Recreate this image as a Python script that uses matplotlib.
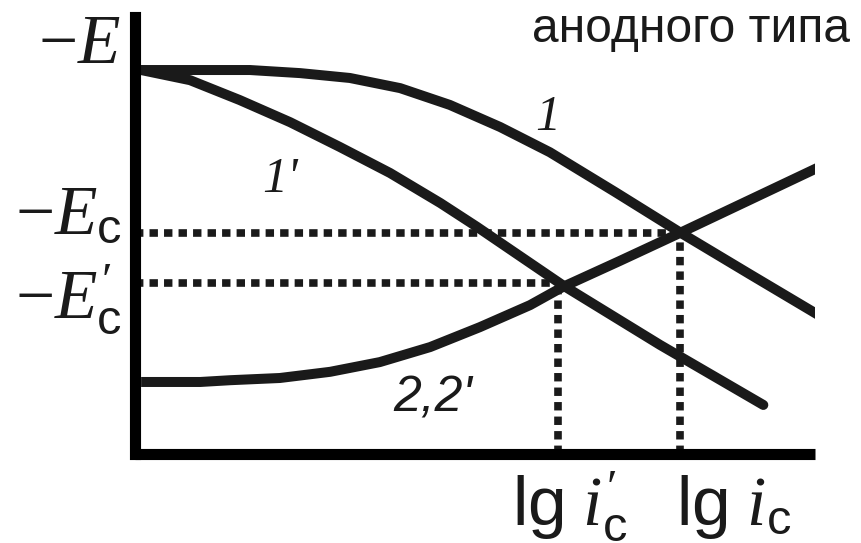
import matplotlib
matplotlib.use('Agg')
import matplotlib.pyplot as plt

plt.rcParams['mathtext.fontset'] = 'custom'
plt.rcParams['mathtext.rm'] = 'Liberation Serif'
plt.rcParams['mathtext.it'] = 'Liberation Serif:italic'
plt.rcParams['mathtext.sf'] = 'Liberation Sans'

# ---- data (lg i on x, -E on y, arbitrary units) ----
curve1_x = [0.09, 0.96, 1.69, 2.43, 3.16, 3.90, 4.63, 5.37, 6.10, 7.06, 8.01, 9.04, 10.22]
curve1_y = [8.69, 8.69, 8.69, 8.62, 8.51, 8.28, 7.90, 7.40, 6.83, 5.93, 5.02, 4.07, 2.99]

curve1p_x = [0.09, 0.81, 1.54, 2.28, 3.01, 3.75, 4.49, 5.03, 5.66, 6.29, 7.72, 9.24]
curve1p_y = [8.69, 8.46, 8.01, 7.51, 6.95, 6.36, 5.68, 5.14, 4.48, 3.82, 2.47, 1.11]

curve2_x = [0.09, 0.96, 1.40, 2.13, 2.87, 3.60, 4.34, 5.07, 5.81, 6.29, 7.13, 8.01, 9.04, 10.22]
curve2_y = [1.63, 1.63, 1.67, 1.72, 1.86, 2.08, 2.42, 2.87, 3.37, 3.78, 4.37, 5.00, 5.75, 6.61]

lg_ic = [6.22, 8.01]      # lg i'_c, lg i_c
E_c = [3.87, 5.00]        # -E'_c, -E_c

curve_labels = ['1', "1'", "2,2'"]
x_tick_labels = [r"$\mathsf{lg}\ i^{\prime}_{\mathsf{c}}$", r"$\mathsf{lg}\ i_{\mathsf{c}}$"]
y_tick_labels = [r"$-E^{\prime}_{\mathsf{c}}$", r"$-E_{\mathsf{c}}$"]
y_axis_label = r"$-E$"
title_text = "анодного типа"

W, H = 862, 543
fig = plt.figure(figsize=(W / 100, H / 100), dpi=100)

def fx(px):
    return px / W

def fy(py):
    return 1 - py / H

ax = fig.add_axes([fx(135), fy(454), fx(815) - fx(135), fy(17) - fy(454)])
ax.set_xlim(0, 10)
ax.set_ylim(0, 9.89)
for s in ['top', 'right']:
    ax.spines[s].set_visible(False)
ax.spines['left'].set_linewidth(8)
ax.spines['bottom'].set_linewidth(8)
ax.spines['left'].set_capstyle('projecting')
ax.spines['bottom'].set_capstyle('butt')
ax.set_xticks([])
ax.set_yticks([])

ink = '#1a1a1a'
lw = 7.2
ax.plot(curve1_x, curve1_y, color=ink, lw=lw, solid_capstyle='butt', solid_joinstyle='round')
ax.plot(curve1p_x, curve1p_y, color=ink, lw=lw, solid_capstyle='round', solid_joinstyle='round')
ax.plot(curve2_x, curve2_y, color=ink, lw=lw, solid_capstyle='butt', solid_joinstyle='round')

dot_kw = dict(color=ink, lw=5.5, dashes=(1.1, 0.8), dash_capstyle='butt')
for xi, yi in zip(lg_ic, E_c):
    ax.plot([0, xi], [yi, yi], **dot_kw)
    ax.plot([xi, xi], [0, yi], **dot_kw)

big = 50
fig.text(fx(121), fy(63), y_axis_label, fontsize=big, ha='right', va='baseline', color=ink)
fig.text(fx(122), fy(233), y_tick_labels[1], fontsize=big, ha='right', va='baseline', color=ink)
fig.text(fx(122), fy(318), y_tick_labels[0], fontsize=big, ha='right', va='baseline', color=ink)
fig.text(fx(512), fy(525), x_tick_labels[0], fontsize=big, ha='left', va='baseline', color=ink)
fig.text(fx(676), fy(525), x_tick_labels[1], fontsize=big, ha='left', va='baseline', color=ink)

num_kw = dict(fontsize=36, ha='left', va='baseline', color=ink)
fig.text(fx(535), fy(130), curve_labels[0], family='Liberation Serif', style='italic', **num_kw)
fig.text(fx(262), fy(192), curve_labels[1], family='Liberation Serif', style='italic', **num_kw)
fig.text(fx(393), fy(412), curve_labels[2], family='Liberation Sans', style='italic', **num_kw)

fig.text(fx(532), fy(42), title_text, family='Liberation Sans', fontsize=34.5, ha='left', va='baseline', color=ink)

fig.savefig('out.png', dpi=100)
